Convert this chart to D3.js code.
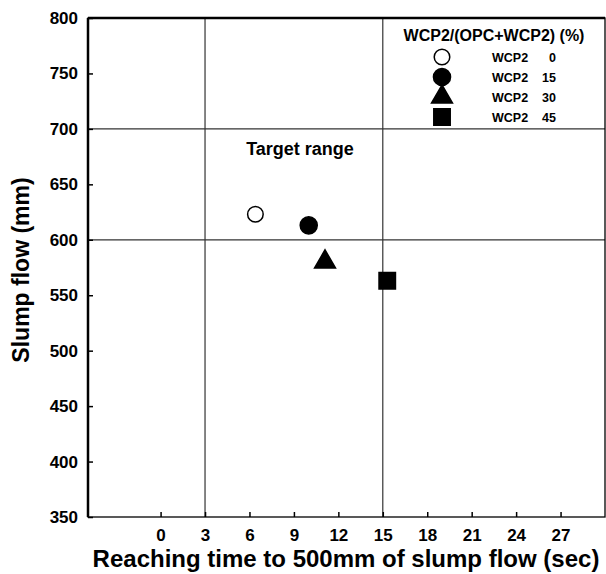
<!DOCTYPE html>
<html>
<head>
<meta charset="utf-8">
<script src="https://cdn.jsdelivr.net/npm/d3@7"></script>
<style>
  body { margin: 0; background: #fff; }
  text { font-family: "Liberation Sans", Arial, sans-serif; font-weight: bold; fill: #000; }
</style>
</head>
<body>
<div id="main"></div>
<script>
// data
var series = ['WCP2  0', 'WCP2 15', 'WCP2 30', 'WCP2 45'];
var symbols = ['circleOpen', 'circle', 'triangle', 'square'];
var timeSec = [6.4, 10.0, 11.1, 15.3];
var slumpFlow = [623, 613, 580, 563];
var xTicks = [0, 3, 6, 9, 12, 15, 18, 21, 24, 27];
var yTicks = [350, 400, 450, 500, 550, 600, 650, 700, 750, 800];
var targetX = [3, 15];
var targetY = [600, 700];

var width = 606,
    height = 574;

// plot box (window.top is read-only, so not "top")
var pLeft = 88, pRight = 605, pTop = 18, pBottom = 517;

var x = d3.scaleLinear().domain([-4.9, 30]).range([pLeft, pRight]);
var y = d3.scaleLinear().domain([350, 800]).range([pBottom, pTop]);

var svg = d3.select("#main").append("svg")
    .attr("width", width)
    .attr("height", height);

// target range lines
svg.selectAll(".vline").data(targetX)
  .enter().append("line")
    .attr("class", "vline")
    .attr("x1", function(d) { return x(d); })
    .attr("x2", function(d) { return x(d); })
    .attr("y1", pTop)
    .attr("y2", pBottom)
    .attr("stroke", "#333")
    .attr("stroke-width", 1.2);

svg.selectAll(".hline").data(targetY)
  .enter().append("line")
    .attr("class", "hline")
    .attr("x1", pLeft)
    .attr("x2", pRight)
    .attr("y1", function(d) { return y(d); })
    .attr("y2", function(d) { return y(d); })
    .attr("stroke", "#333")
    .attr("stroke-width", 1.2);

// axes, ticks pointing inward
var xAxis = d3.axisBottom(x).tickValues(xTicks).tickSizeInner(-5).tickSizeOuter(0).tickPadding(12);
var yAxis = d3.axisLeft(y).tickValues(yTicks).tickSizeInner(-5).tickSizeOuter(0).tickPadding(10);

var gx = svg.append("g")
    .attr("transform", "translate(0," + pBottom + ")")
    .call(xAxis);
var gy = svg.append("g")
    .attr("transform", "translate(" + pLeft + ",0)")
    .call(yAxis);

[gx, gy].forEach(function(g) {
  g.select(".domain").remove();
  g.selectAll(".tick line").attr("stroke", "#000").attr("stroke-width", 1.5);
  g.selectAll(".tick text").style("font-size", "17px").style("font-family", "Liberation Sans, Arial, sans-serif").style("font-weight", "bold");
});

// frame
svg.append("rect")
    .attr("x", pLeft)
    .attr("y", pTop)
    .attr("width", pRight - pLeft)
    .attr("height", pBottom - pTop)
    .attr("fill", "none")
    .attr("stroke", "#000")
    .attr("stroke-width", 1.3);
svg.append("line")
    .attr("x1", pLeft).attr("x2", pRight).attr("y1", pTop).attr("y2", pTop)
    .attr("stroke", "#000").attr("stroke-width", 2.5);
svg.append("line")
    .attr("x1", pLeft).attr("x2", pLeft).attr("y1", pTop).attr("y2", pBottom)
    .attr("stroke", "#000").attr("stroke-width", 2.5);

function symbolPath(s) {
  var size = s == 'triangle' ? 190 : (s == 'square' ? 270 : 230);
  var type = s == 'triangle' ? d3.symbolTriangle : (s == 'square' ? d3.symbolSquare : d3.symbolCircle);
  if (s == 'circleOpen') size = 190;
  return d3.symbol().type(type).size(size)();
}

function symbolFill(s) { return s == 'circleOpen' ? "#fff" : "#000"; }

// data points
svg.selectAll(".pt").data(d3.range(series.length))
  .enter().append("path")
    .attr("class", "pt")
    .attr("transform", function(i) { return "translate(" + x(timeSec[i]) + "," + y(slumpFlow[i]) + ")"; })
    .attr("d", function(i) { return symbolPath(symbols[i]); })
    .attr("fill", function(i) { return symbolFill(symbols[i]); })
    .attr("stroke", "#000")
    .attr("stroke-width", 1.5);

svg.append("text")
    .attr("x", 300)
    .attr("y", 155)
    .attr("text-anchor", "middle")
    .style("font-size", "18px")
    .text("Target range");

// legend
var legend = svg.append("g");
legend.append("text")
    .attr("x", 494)
    .attr("y", 41)
    .attr("text-anchor", "middle")
    .style("font-size", "16px")
    .text("WCP2/(OPC+WCP2) (%)");

var row = legend.selectAll(".row").data(d3.range(series.length))
  .enter().append("g")
    .attr("class", "row")
    .attr("transform", function(i) { return "translate(0," + (57 + i * 20) + ")"; });

row.append("path")
    .attr("transform", "translate(442,0)")
    .attr("d", function(i) { return symbolPath(symbols[i]); })
    .attr("fill", function(i) { return symbolFill(symbols[i]); })
    .attr("stroke", "#000")
    .attr("stroke-width", 1.5);

row.append("text")
    .attr("x", 492)
    .attr("y", 4.5)
    .style("font-size", "12.5px")
    .text(function(i) { return series[i].split(/\s+/)[0]; });

row.append("text")
    .attr("x", 556)
    .attr("y", 4.5)
    .attr("text-anchor", "end")
    .style("font-size", "12.5px")
    .text(function(i) { return series[i].split(/\s+/)[1]; });

// axis titles
svg.append("text")
    .attr("x", 346)
    .attr("y", 567)
    .attr("text-anchor", "middle")
    .style("font-size", "24px")
    .text("Reaching time to 500mm of slump flow (sec)");

svg.append("text")
    .attr("transform", "translate(29,270) rotate(-90)")
    .attr("text-anchor", "middle")
    .style("font-size", "23px")
    .text("Slump flow (mm)");
</script>
</body>
</html>
